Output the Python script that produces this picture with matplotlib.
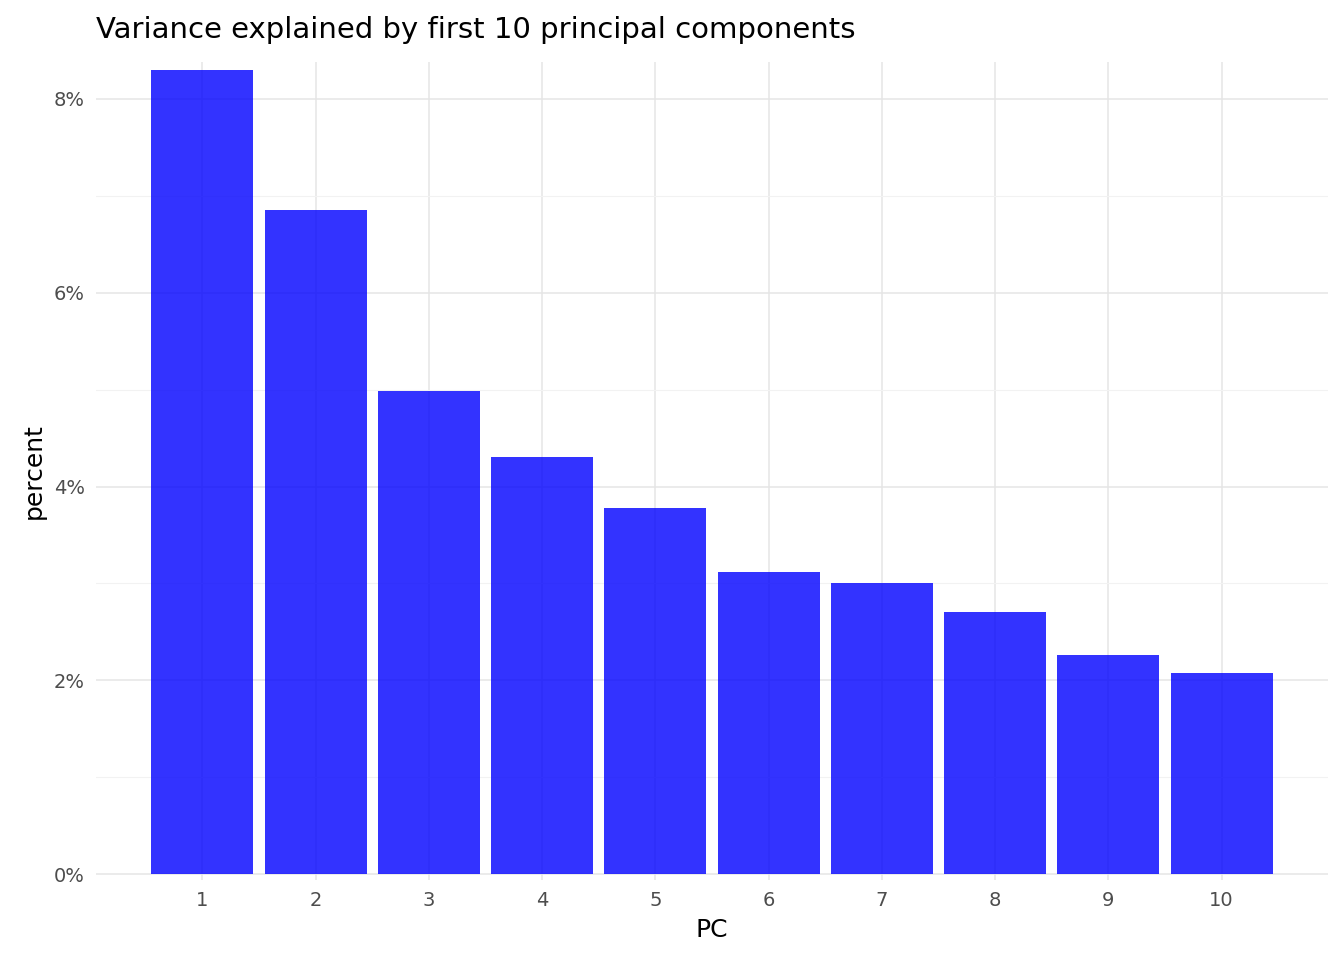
import matplotlib.pyplot as plt
from matplotlib.ticker import FuncFormatter

pcs = list(range(1, 11))
percent = [8.30, 6.85, 4.99, 4.30, 3.78, 3.12, 3.00, 2.71, 2.26, 2.08]

fig = plt.figure(figsize=(13.44, 9.6), dpi=100)
ax = fig.add_axes([96 / 1344, 1 - 880 / 960, 1232 / 1344, 818 / 960])

ax.bar(pcs, percent, width=0.9, color="blue", alpha=0.8, zorder=2)

ax.set_xlim(0.06, 10.94)
ax.set_ylim(-0.06, 8.38)
ax.set_xticks(pcs)
ax.set_yticks([0, 2, 4, 6, 8])
ax.set_yticks([1, 3, 5, 7], minor=True)
ax.yaxis.set_major_formatter(FuncFormatter(lambda v, p: f"{v:.0f}%"))
ax.grid(True, which="major", color="#e5e5e5", lw=1.1, zorder=0)
ax.grid(True, which="minor", axis="y", color="#f2f2f2", lw=0.8, zorder=0)
for s in ax.spines.values():
    s.set_visible(False)
ax.tick_params(which="both", length=0, labelsize=14, colors="#4d4d4d", pad=8)

ax.set_xlabel("PC", fontsize=18, labelpad=6)
ax.set_ylabel("percent", fontsize=18, labelpad=6)
fig.text(96 / 1344, 1 - 30 / 960, "Variance explained by first 10 principal components",
         fontsize=21, va="center", ha="left")

fig.savefig("out.png", dpi=100)
